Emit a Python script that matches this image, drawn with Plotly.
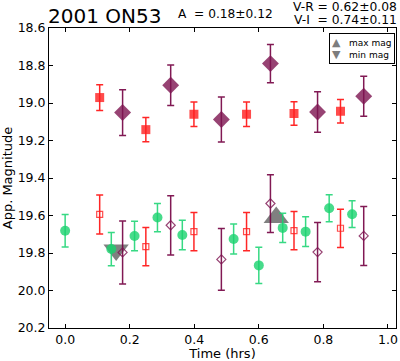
import plotly.graph_objects as go

# V band (green circles)
v_t = [0.000, 0.143, 0.215, 0.286, 0.363, 0.522, 0.600, 0.674, 0.745, 0.818, 0.889]
v_mag = [19.681, 19.779, 19.709, 19.611, 19.704, 19.725, 19.866, 19.666, 19.686, 19.561, 19.593]
v_err = [0.087, 0.089, 0.079, 0.075, 0.079, 0.080, 0.097, 0.078, 0.080, 0.072, 0.071]

# R band (red filled squares, shifted) and raw (open squares)
r_t = [0.107, 0.250, 0.399, 0.562, 0.709, 0.853]
r_mag = [18.971, 19.142, 19.060, 19.060, 19.056, 19.044]
r_err = [0.069, 0.064, 0.065, 0.065, 0.063, 0.063]
r_raw_mag = [19.594, 19.766, 19.686, 19.686, 19.681, 19.668]
r_raw_err = [0.104, 0.102, 0.102, 0.102, 0.102, 0.102]

# I band (purple filled diamonds, shifted) and raw (open diamonds)
i_t = [0.178, 0.327, 0.484, 0.636, 0.782, 0.925]
i_mag = [19.051, 18.905, 19.088, 18.790, 19.048, 18.964]
i_err = [0.122, 0.108, 0.120, 0.102, 0.108, 0.106]
i_raw_mag = [19.797, 19.652, 19.834, 19.536, 19.795, 19.709]
i_raw_err = [0.168, 0.158, 0.165, 0.154, 0.158, 0.157]

# extrema
max_t = [0.654]
max_mag = [19.610]
min_t = [0.158]
min_mag = [19.784]

x_ticks = [0.0, 0.2, 0.4, 0.6, 0.8, 1.0]
y_ticks = [18.6, 18.8, 19.0, 19.2, 19.4, 19.6, 19.8, 20.0, 20.2]

RED = "rgba(255,30,30,0.8)"
RED_E = "rgba(255,0,0,0.85)"
GREEN = "rgba(25,210,110,0.8)"
GREEN_E = "rgba(20,210,110,0.85)"
PURP = "rgba(125,20,80,0.8)"
PURP_E = "rgba(115,0,65,0.9)"
GRAY = "rgba(85,85,85,0.75)"

fig = go.Figure()

fig.add_trace(go.Scatter(x=max_t, y=max_mag, mode="markers", name="max mag",
                         marker=dict(symbol="triangle-up", size=22, color=GRAY, line=dict(width=0)),
                         showlegend=False))
fig.add_trace(go.Scatter(x=min_t, y=min_mag, mode="markers", name="min mag",
                         marker=dict(symbol="triangle-down", size=22, color=GRAY, line=dict(width=0)),
                         showlegend=False))

def eb(arr, color):
    return dict(type="data", array=arr, visible=True, color=color, thickness=1.5, width=3.5)

fig.add_trace(go.Scatter(x=v_t, y=v_mag, mode="markers", showlegend=False,
                         error_y=eb(v_err, GREEN_E),
                         marker=dict(symbol="circle", size=10, color=GREEN, line=dict(width=0))))
fig.add_trace(go.Scatter(x=r_t, y=r_raw_mag, mode="markers", showlegend=False,
                         error_y=eb(r_raw_err, RED_E),
                         marker=dict(symbol="square-open", size=6, color=RED, line=dict(width=1.2))))
fig.add_trace(go.Scatter(x=i_t, y=i_raw_mag, mode="markers", showlegend=False,
                         error_y=eb(i_raw_err, PURP_E),
                         marker=dict(symbol="diamond-open", size=7, color=PURP, line=dict(width=1.2))))
fig.add_trace(go.Scatter(x=r_t, y=r_mag, mode="markers", showlegend=False,
                         error_y=eb(r_err, RED_E),
                         marker=dict(symbol="square", size=9, color=RED, line=dict(width=0))))
fig.add_trace(go.Scatter(x=i_t, y=i_mag, mode="markers", showlegend=False,
                         error_y=eb(i_err, PURP_E),
                         marker=dict(symbol="diamond", size=13, color=PURP, line=dict(width=0))))

axis_common = dict(showline=True, linecolor="black", linewidth=1, mirror="ticks",
                   ticks="inside", ticklen=4, tickcolor="black", showgrid=False, zeroline=False,
                   tickfont=dict(family="DejaVu Sans", size=12.5, color="black"))

fig.update_xaxes(range=[-0.05, 1.025], tickvals=x_ticks, ticktext=[f"{v:.1f}" for v in x_ticks],
                 title=dict(text="Time (hrs)", font=dict(family="DejaVu Sans", size=13, color="black"), standoff=1),
                 **axis_common)
fig.update_yaxes(range=[20.2, 18.6], tickvals=y_ticks, ticktext=[f"{v:.1f}" for v in y_ticks],
                 title=dict(text="App. Magnitude", font=dict(family="DejaVu Sans", size=13, color="black"), standoff=2),
                 **axis_common)

legend_text = ('<span style="color:rgb(125,125,125);font-size:11px">▲</span>   max mag<br>'
               '<span style="color:rgb(125,125,125);font-size:11px">▼</span>   min mag')

fig.update_layout(
    width=400, height=361,
    margin=dict(l=49, r=2, t=28, b=33, pad=0),
    paper_bgcolor="white", plot_bgcolor="white",
    font=dict(family="DejaVu Sans", color="black"),
    showlegend=False,
    annotations=[
        dict(text="2001 ON53", xref="paper", yref="paper", x=0.0, y=1.0, xanchor="left", yanchor="bottom",
             showarrow=False, font=dict(family="DejaVu Sans", size=20, color="black"), yshift=-2, xshift=-3),
        dict(text="A  = 0.18±0.12", xref="paper", yref="paper", x=0.51, y=1.0, xanchor="center", yanchor="bottom",
             showarrow=False, font=dict(family="DejaVu Sans", size=12.2, color="black"), yshift=5),
        dict(text="V-R = 0.62±0.08", xref="paper", yref="paper", x=1.0, y=1.0, xanchor="right", yanchor="bottom",
             showarrow=False, font=dict(family="DejaVu Sans", size=12.3, color="black"), yshift=12, xshift=3),
        dict(text="V-I  = 0.74±0.11", xref="paper", yref="paper", x=1.0, y=1.0, xanchor="right", yanchor="bottom",
             showarrow=False, font=dict(family="DejaVu Sans", size=12.3, color="black"), yshift=-1, xshift=3),
        dict(text=legend_text, xref="paper", yref="paper", x=0.997, y=0.984, xanchor="right", yanchor="top",
             showarrow=False, align="left", font=dict(family="DejaVu Sans", size=9, color="black"),
             bordercolor="black", borderwidth=1, borderpad=2, bgcolor="white"),
    ],
)

fig.write_html("out.html", config={"displayModeBar": False},
               post_script="document.body.style.margin='0';document.body.style.padding='0';")
